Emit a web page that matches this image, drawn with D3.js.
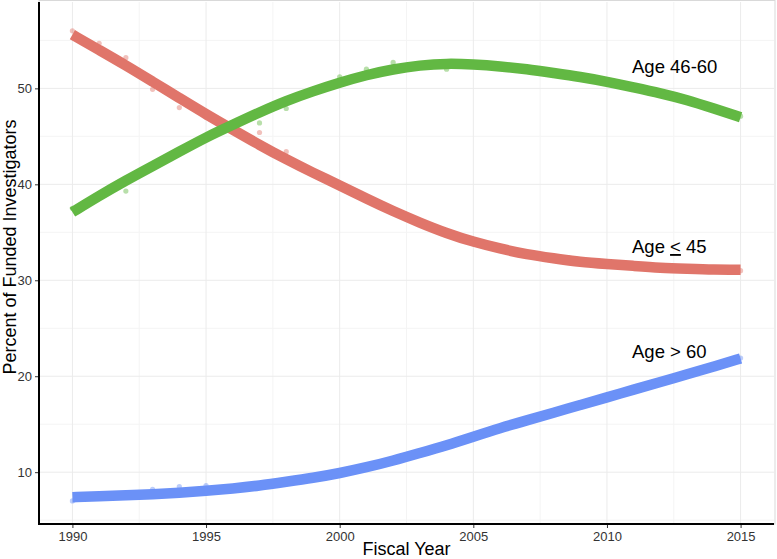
<!DOCTYPE html>
<html>
<head>
<meta charset="utf-8">
<script src="https://cdn.jsdelivr.net/npm/d3@7"></script>
<style>
	body { margin: 0; background: #fff; }
	text { font-family: "Liberation Sans", Arial, sans-serif; }
</style>
</head>
<body>
<div id="chart"></div>
<script>
	'use strict';

	// ---------- data ----------
	let years = [1990, 1991, 1992, 1993, 1994, 1995, 1996, 1997, 1998, 1999, 2000, 2001, 2002,
		2003, 2004, 2005, 2006, 2007, 2008, 2009, 2010, 2011, 2012, 2013, 2014, 2015];

	// fitted (smoothed) curves
	let smoothYoung = [55.6, 54.0, 52.4, 50.7, 49.0, 47.3, 45.7, 44.1, 42.6, 41.2, 39.9, 38.5, 37.2,
		36.0, 34.9, 34.0, 33.3, 32.7, 32.3, 31.9, 31.7, 31.5, 31.3, 31.2, 31.1, 31.1];
	let smoothMid = [37.1, 38.8, 40.4, 41.9, 43.4, 44.9, 46.2, 47.5, 48.7, 49.7, 50.6, 51.4, 52.0,
		52.4, 52.6, 52.5, 52.3, 52.0, 51.6, 51.2, 50.7, 50.1, 49.5, 48.8, 47.9, 47.0];
	let smoothOld = [7.4, 7.5, 7.6, 7.7, 7.85, 8.05, 8.3, 8.6, 9.0, 9.4, 9.9, 10.5, 11.2,
		12.0, 12.8, 13.7, 14.6, 15.4, 16.2, 17.0, 17.8, 18.6, 19.4, 20.2, 21.0, 21.85];

	// raw yearly points
	let pointsYoung = [56.0, 54.7, 53.2, 49.9, 48.0, 47.0, 45.9, 45.4, 43.4, 41.0, 39.8, 38.6, 37.2,
		35.8, 34.7, 33.8, 33.2, 32.6, 32.3, 31.9, 31.6, 31.5, 31.3, 31.2, 31.1, 31.0];
	let pointsMid = [37.5, 38.6, 39.3, 41.8, 43.5, 45.0, 46.0, 46.4, 47.9, 49.6, 51.2, 52.0, 52.7,
		52.5, 52.0, 52.5, 52.3, 52.0, 51.6, 51.0, 50.7, 50.0, 49.5, 48.8, 48.0, 47.1];
	let pointsOld = [7.0, 7.4, 7.6, 8.2, 8.5, 8.6, 8.3, 8.6, 9.0, 9.4, 9.9, 10.5, 11.2,
		12.0, 12.9, 13.8, 14.6, 15.4, 16.2, 16.9, 17.7, 18.5, 19.3, 20.2, 21.0, 21.9];

	let xTicks = [1990, 1995, 2000, 2005, 2010, 2015];
	let xMinor = [1992.5, 1997.5, 2002.5, 2007.5, 2012.5];
	let yTicks = [10, 20, 30, 40, 50];
	let yMinor = [5, 15, 25, 35, 45, 55];

	let seriesColors = ['#e0756a', '#62b843', '#6b91f7'];

	// ---------- layout ----------
	let width = 777, height = 559;
	let panel = {left: 39, right: 774, top: 2, bottom: 524};

	let svg = d3.select('#chart').append('svg')
		.attr('width', width)
		.attr('height', height);

	let x = d3.scaleLinear().domain([1988.75, 2016.25]).range([panel.left, panel.right]);
	let y = d3.scaleLinear().domain([4.6, 59.0]).range([panel.bottom, panel.top]);

	// grid
	let grid = svg.append('g');
	grid.selectAll('line.vminor').data(xMinor).enter().append('line')
		.attr('x1', d => x(d)).attr('x2', d => x(d))
		.attr('y1', panel.top).attr('y2', panel.bottom)
		.attr('stroke', '#f4f4f4').attr('stroke-width', 1);
	grid.selectAll('line.hminor').data(yMinor).enter().append('line')
		.attr('y1', d => y(d)).attr('y2', d => y(d))
		.attr('x1', panel.left).attr('x2', panel.right)
		.attr('stroke', '#f4f4f4').attr('stroke-width', 1);
	grid.selectAll('line.vmajor').data(xTicks).enter().append('line')
		.attr('x1', d => x(d)).attr('x2', d => x(d))
		.attr('y1', panel.top).attr('y2', panel.bottom)
		.attr('stroke', '#ebebeb').attr('stroke-width', 1);
	grid.selectAll('line.hmajor').data(yTicks).enter().append('line')
		.attr('y1', d => y(d)).attr('y2', d => y(d))
		.attr('x1', panel.left).attr('x2', panel.right)
		.attr('stroke', '#ebebeb').attr('stroke-width', 1);

	// light panel border
	svg.append('rect')
		.attr('x', panel.left).attr('y', panel.top - 1.5)
		.attr('width', panel.right - panel.left + 1)
		.attr('height', panel.bottom - panel.top + 1.5)
		.attr('fill', 'none').attr('stroke', '#d9d9d9').attr('stroke-width', 1);

	// ---------- marks ----------
	let smooths = [smoothYoung, smoothMid, smoothOld];
	let points = [pointsYoung, pointsMid, pointsOld];

	let pts = svg.append('g');
	points.forEach(function (vals, i) {
		pts.selectAll('circle.p' + i)
			.data(vals).enter().append('circle')
			.attr('cx', (d, j) => x(years[j]))
			.attr('cy', d => y(d))
			.attr('r', 2.6)
			.attr('fill', seriesColors[i])
			.attr('fill-opacity', 0.45);
	});

	let line = d3.line()
		.x((d, j) => x(years[j]))
		.y(d => y(d))
		.curve(d3.curveBasis);

	svg.append('g').selectAll('path')
		.data(smooths).enter().append('path')
		.attr('d', d => line(d))
		.attr('fill', 'none')
		.attr('stroke', (d, i) => seriesColors[i])
		.attr('stroke-width', 10.5)
		.attr('stroke-linecap', 'butt')
		.attr('stroke-linejoin', 'round');

	// ---------- axes ----------
	let xAxis = d3.axisBottom(x).tickValues(xTicks).tickFormat(d3.format('d')).tickSize(4).tickPadding(4);
	let yAxis = d3.axisLeft(y).tickValues(yTicks).tickSize(4).tickPadding(3);

	let gx = svg.append('g').attr('transform', 'translate(0,' + panel.bottom + ')').call(xAxis);
	let gy = svg.append('g').attr('transform', 'translate(' + panel.left + ',0)').call(yAxis);

	[gx, gy].forEach(function (g) {
		g.select('.domain').remove();
		g.selectAll('.tick line').attr('stroke', '#333').attr('stroke-width', 1);
		g.selectAll('.tick text')
			.attr('fill', '#333')
			.style('font-size', '13px')
			.style('font-family', '"Liberation Sans", Arial, sans-serif');
	});

	// axis lines
	svg.append('line')
		.attr('x1', panel.left).attr('x2', panel.left)
		.attr('y1', panel.top).attr('y2', panel.bottom + 1)
		.attr('stroke', '#000').attr('stroke-width', 2);
	svg.append('line')
		.attr('x1', panel.left - 1).attr('x2', panel.right)
		.attr('y1', panel.bottom).attr('y2', panel.bottom)
		.attr('stroke', '#000').attr('stroke-width', 2);

	// titles
	svg.append('text')
		.attr('x', (panel.left + panel.right) / 2)
		.attr('y', 555)
		.attr('text-anchor', 'middle')
		.style('font-size', '18px')
		.attr('fill', '#000')
		.text('Fiscal Year');

	svg.append('text')
		.attr('transform', 'translate(16,247) rotate(-90)')
		.attr('text-anchor', 'middle')
		.style('font-size', '18px')
		.attr('fill', '#000')
		.text('Percent of Funded Investigators');

	// series labels
	let labelX = 632;
	svg.append('text').attr('x', labelX).attr('y', 73)
		.style('font-size', '18.5px').text('Age 46-60');

	let lblYoung = svg.append('text').attr('x', labelX).attr('y', 253)
		.style('font-size', '18.5px');
	lblYoung.append('tspan').text('Age ');
	lblYoung.append('tspan').style('text-decoration', 'underline').text('<');
	lblYoung.append('tspan').text(' 45');

	svg.append('text').attr('x', labelX).attr('y', 358)
		.style('font-size', '18.5px').text('Age > 60');
</script>
</body>
</html>
